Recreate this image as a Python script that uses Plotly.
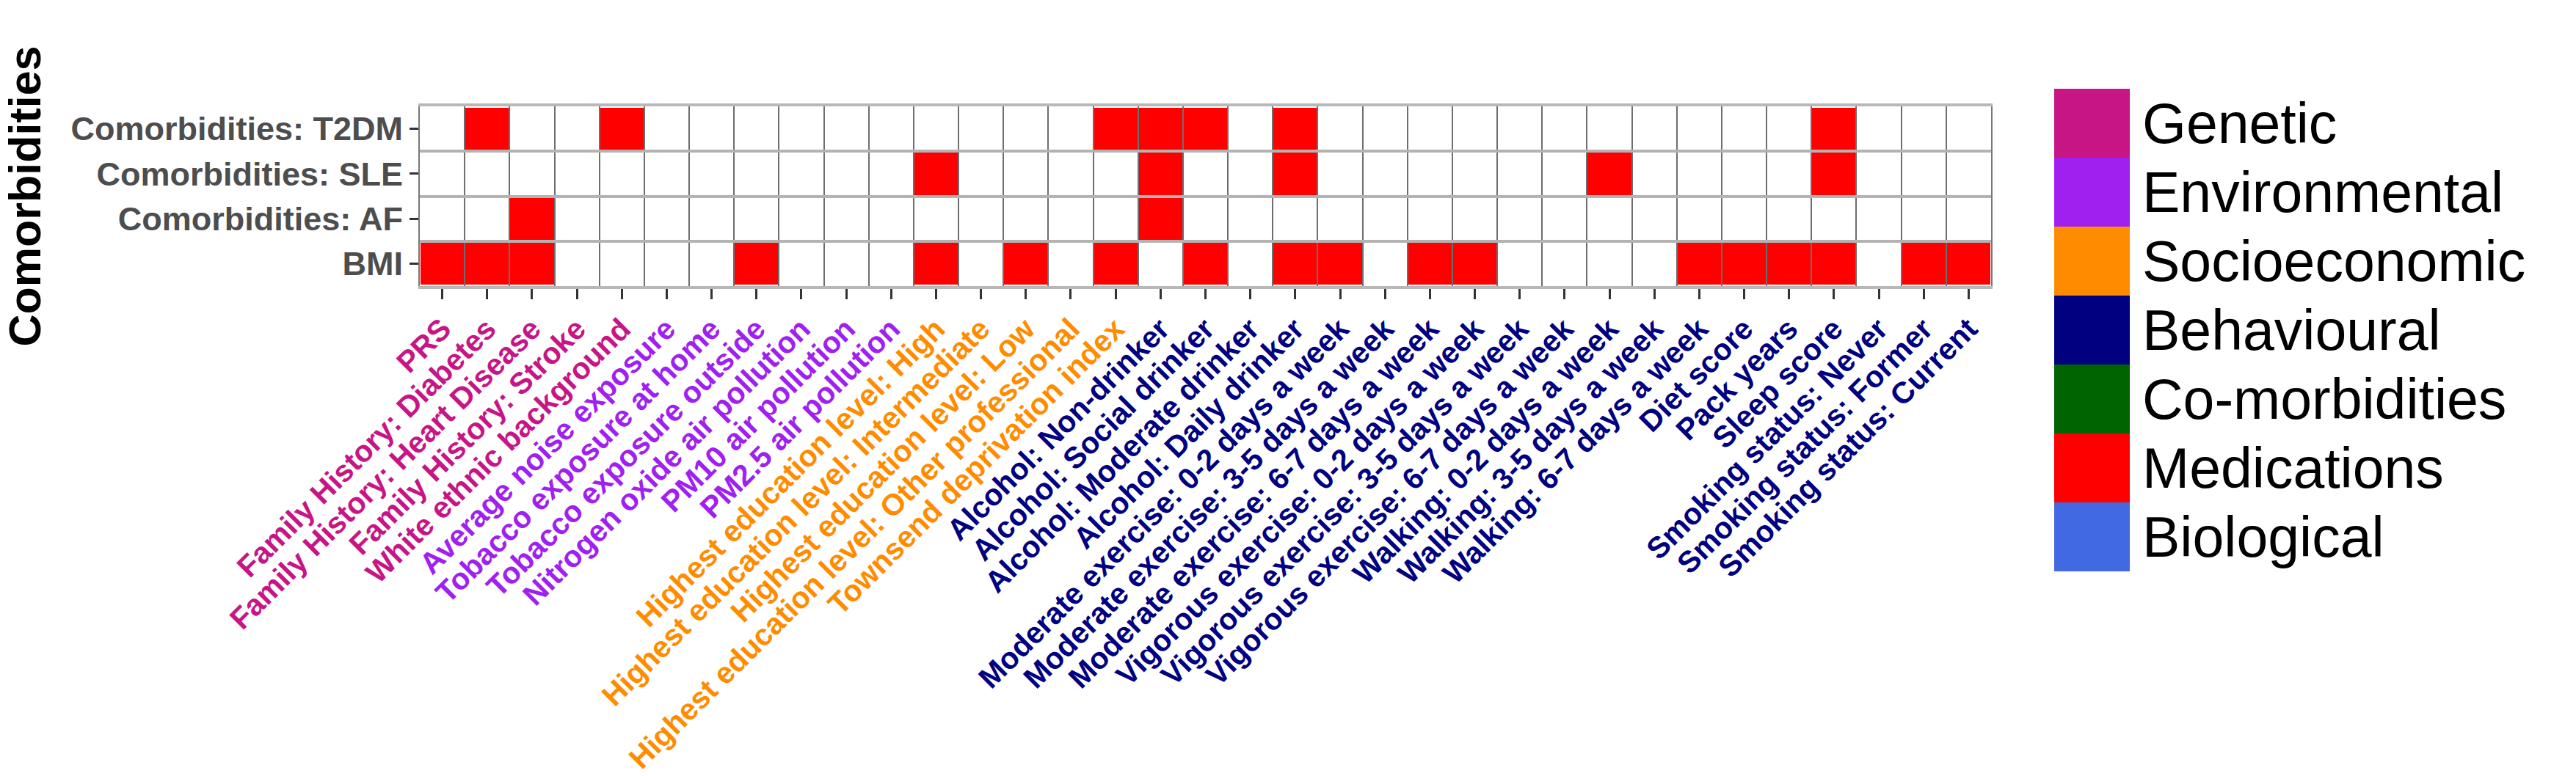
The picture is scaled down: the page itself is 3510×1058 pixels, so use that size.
import plotly.graph_objects as go

# ---------------- data ----------------
x_labels = [
    "PRS", "Family History: Diabetes", "Family History: Heart Disease",
    "Family History: Stroke", "White ethnic background",
    "Average noise exposure", "Tobacco exposure at home", "Tobacco exposure outside",
    "Nitrogen oxide air pollution", "PM10 air pollution", "PM2.5 air pollution",
    "Highest education level: High", "Highest education level: Intermediate",
    "Highest education level: Low", "Highest education level: Other professional",
    "Townsend deprivation index",
    "Alcohol: Non-drinker", "Alcohol: Social drinker", "Alcohol: Moderate drinker",
    "Alcohol: Daily drinker",
    "Moderate exercise: 0-2 days a week", "Moderate exercise: 3-5 days a week",
    "Moderate exercise: 6-7 days a week",
    "Vigorous exercise: 0-2 days a week", "Vigorous exercise: 3-5 days a week",
    "Vigorous exercise: 6-7 days a week",
    "Walking: 0-2 days a week", "Walking: 3-5 days a week", "Walking: 6-7 days a week",
    "Diet score", "Pack years", "Sleep score",
    "Smoking status: Never", "Smoking status: Former", "Smoking status: Current",
]
x_groups = (["Genetic"] * 5 + ["Environmental"] * 6 + ["Socioeconomic"] * 5
            + ["Behavioural"] * 19)

y_labels = ["BMI", "Comorbidities: AF", "Comorbidities: SLE", "Comorbidities: T2DM"]

bmi  = [1,1,1,0,0, 0,0,1,0,0, 0,1,0,1,0, 1,0,1,0,1, 1,0,1,1,0, 0,0,0,1,1, 1,1,0,1,1]
af   = [0,0,1,0,0, 0,0,0,0,0, 0,0,0,0,0, 0,1,0,0,0, 0,0,0,0,0, 0,0,0,0,0, 0,0,0,0,0]
sle  = [0,0,0,0,0, 0,0,0,0,0, 0,1,0,0,0, 0,1,0,0,1, 0,0,0,0,0, 0,1,0,0,0, 0,1,0,0,0]
t2dm = [0,1,0,0,1, 0,0,0,0,0, 0,0,0,0,0, 1,1,1,0,1, 0,0,0,0,0, 0,0,0,0,0, 0,1,0,0,0]

categories = ["Genetic", "Environmental", "Socioeconomic", "Behavioural",
              "Co-morbidities", "Medications", "Biological"]
category_colors = ["#C71585", "#A020F0", "#FF8C00", "#000080",
                   "#006400", "#FF0000", "#4169E1"]

# ---------------- figure ----------------
FONT = "Liberation Sans, Arial, sans-serif"
W, H = 3510, 1058
color_of = dict(zip(categories, category_colors))

n_x, n_y = len(x_labels), len(y_labels)
x_idx = list(range(n_x))
y_idx = list(range(n_y))
ticktext = [f"<span style='color:{color_of[g]}'>{lab}</span>"
            for lab, g in zip(x_labels, x_groups)]

fig = go.Figure()
fig.add_trace(go.Heatmap(
    x=x_idx, y=y_idx, z=[bmi, af, sle, t2dm],
    zmin=0, zmax=1,
    colorscale=[[0, "#FFFFFF"], [1, color_of["Medications"]]],
    showscale=False, xgap=2, ygap=4,
    hoverinfo="skip",
    xaxis="x", yaxis="y",
))

# legend drawn as a category heatmap column
fig.add_trace(go.Heatmap(
    x=[0], y=list(range(len(categories))),
    z=[[i] for i in range(len(categories))],
    zmin=0, zmax=len(categories) - 1,
    colorscale=[[i / (len(categories) - 1), c] for i, c in enumerate(category_colors)],
    showscale=False, hoverinfo="skip",
    xaxis="x2", yaxis="y2",
))

fig.update_layout(
    width=W, height=H,
    margin=dict(l=0, r=0, t=0, b=0, autoexpand=False),
    paper_bgcolor="white", plot_bgcolor="white",
    font=dict(family=FONT),
    showlegend=False,
    xaxis=dict(
        domain=[572 / W, 2713 / W], automargin=False,
        range=[-0.5, n_x - 0.5],
        tickmode="array", tickvals=x_idx, ticktext=ticktext,
        tickangle=-45,
        tickfont=dict(size=41, family=FONT, weight="bold"),
        ticks="outside", ticklen=14, tickwidth=3, tickcolor="#333333",
        showgrid=False, zeroline=False,
        showline=True, mirror=True, linecolor="#b8b8b8", linewidth=4,
        minor=dict(tickmode="array", tickvals=[i + 0.5 for i in range(-1, n_x)],
                   showgrid=True, gridcolor="#6e6e6e", gridwidth=2, ticks=""),
        fixedrange=True,
    ),
    yaxis=dict(
        domain=[(H - 390) / H, (H - 145) / H], automargin=False,
        range=[-0.5, n_y - 0.5],
        tickmode="array", tickvals=y_idx, ticktext=y_labels,
        tickfont=dict(size=45, family=FONT, weight="bold", color="#4D4D4D"),
        ticks="outside", ticklen=12, tickwidth=3, tickcolor="#333333",
        showgrid=False, zeroline=False,
        showline=True, mirror=True, linecolor="#777777", linewidth=2,
        minor=dict(tickmode="array", tickvals=[i + 0.5 for i in range(-1, n_y)],
                   showgrid=True, gridcolor="#b3b3b3", gridwidth=4, ticks=""),
        title=dict(text="Comorbidities",
                   font=dict(size=61, family=FONT, weight="bold", color="black"),
                   standoff=30),
        fixedrange=True,
    ),
    xaxis2=dict(
        domain=[2799 / W, 2902 / W], anchor="y2", automargin=False,
        range=[-0.5, 0.5], showticklabels=False, ticks="",
        showgrid=False, zeroline=False, showline=False, fixedrange=True,
    ),
    yaxis2=dict(
        domain=[(H - 779) / H, (H - 121) / H], anchor="x2", side="right",
        automargin=False,
        range=[len(categories) - 0.5, -0.5],
        tickmode="array", tickvals=list(range(len(categories))), ticktext=categories,
        tickfont=dict(size=77, family=FONT, color="black"),
        ticks="", ticklabelstandoff=16,
        showgrid=False, zeroline=False, showline=False, fixedrange=True,
    ),
)

fig.write_html("out.html", config={"displayModeBar": False},
               post_script="document.body.style.margin='0';document.body.style.overflow='hidden';")
